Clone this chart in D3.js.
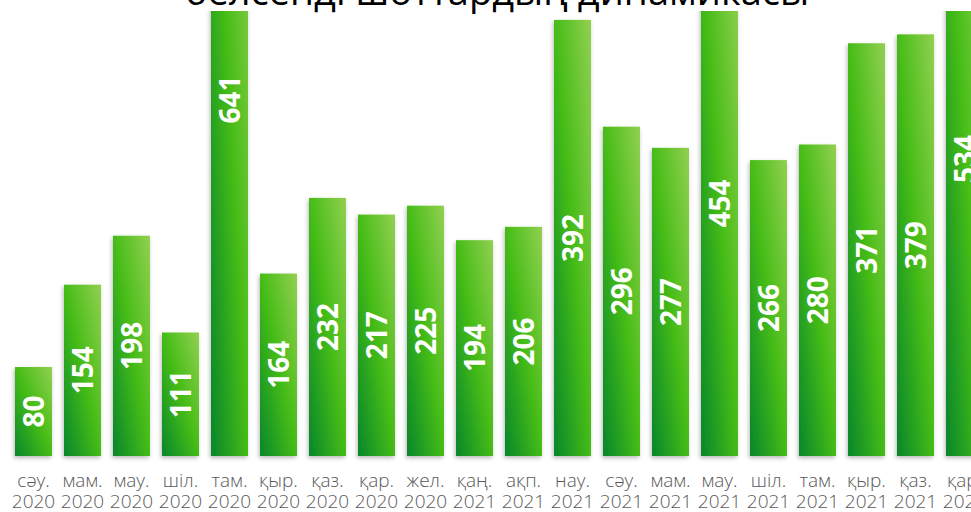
<!DOCTYPE html>
<html>
<head>
<meta charset="utf-8">
<script src="https://cdn.jsdelivr.net/npm/d3@7"></script>
<style>
  html, body { margin: 0; padding: 0; background: #ffffff; }
  svg { display: block; }
</style>
</head>
<body>
<div id="chart"></div>
<script>
const title = "белсенді шоттардың динамикасы";
const months = ["сәу.", "мам.", "мау.", "шіл.", "там.", "қыр.", "қаз.", "қар.", "жел.", "қаң.",
                "ақп.", "нау.", "сәу.", "мам.", "мау.", "шіл.", "там.", "қыр.", "қаз.", "қар."];
const years = ["2020", "2020", "2020", "2020", "2020", "2020", "2020", "2020", "2020", "2021",
               "2021", "2021", "2021", "2021", "2021", "2021", "2021", "2021", "2021", "2021"];
const values = [80, 154, 198, 111, 641, 164, 232, 217, 225, 194,
                206, 392, 296, 277, 454, 266, 280, 371, 379, 534];

const W = 971, H = 512;
const svg = d3.select("#chart").append("svg").attr("width", W).attr("height", H);
const defs = svg.append("defs");

const grad = defs.append("linearGradient").attr("id", "barGrad")
  .attr("x1", 1).attr("y1", 0).attr("x2", 0).attr("y2", 1);
grad.append("stop").attr("offset", "0%").attr("stop-color", "#92d050");
grad.append("stop").attr("offset", "50%").attr("stop-color", "#45bc17");
grad.append("stop").attr("offset", "100%").attr("stop-color", "#08862b");

const shadow = defs.append("filter").attr("id", "shadow")
  .attr("x", "-30%").attr("y", "-10%").attr("width", "160%").attr("height", "120%");
shadow.append("feDropShadow").attr("dx", -1).attr("dy", 2).attr("stdDeviation", 2.2)
  .attr("flood-color", "#000").attr("flood-opacity", 0.28);

defs.append("clipPath").attr("id", "plotClip")
  .append("rect").attr("x", -20).attr("y", 11).attr("width", W + 40).attr("height", 470);

const idx = d3.range(values.length);
const x = d3.scaleBand().domain(idx).range([9, 989]).paddingInner(12 / 49).paddingOuter(6 / 49);
const y = d3.scaleLinear().domain([0, 400]).range([456, 11]);

const plot = svg.append("g").attr("clip-path", "url(#plotClip)");

plot.selectAll("rect.bar").data(idx).join("rect")
  .attr("class", "bar")
  .attr("x", i => x(i))
  .attr("y", i => y(values[i]))
  .attr("width", x.bandwidth())
  .attr("height", i => y(0) - y(values[i]))
  .attr("fill", "url(#barGrad)")
  .attr("filter", "url(#shadow)");

plot.selectAll("text.val").data(idx).join("text")
  .attr("class", "val")
  .attr("transform", i => `translate(${x(i) + x.bandwidth() / 2 + 10},${(y(values[i]) + y(0)) / 2}) rotate(-90)`)
  .attr("text-anchor", "middle")
  .attr("font-family", "'Open Sans', sans-serif")
  .attr("font-weight", 700)
  .attr("font-size", 28)
  .attr("fill", "#ffffff")
  .text(i => values[i]);

const labG = svg.append("g");
labG.selectAll("text.mon").data(idx).join("text")
  .attr("class", "mon")
  .attr("x", i => x(i) + x.bandwidth() / 2)
  .attr("y", 487)
  .attr("text-anchor", "middle")
  .attr("font-family", "'Open Sans', sans-serif")
  .attr("font-weight", 300)
  .attr("font-size", 19)
  .attr("fill", "#595959")
  .text(i => months[i]);
labG.selectAll("text.yr").data(idx).join("text")
  .attr("class", "yr")
  .attr("x", i => x(i) + x.bandwidth() / 2)
  .attr("y", 508)
  .attr("text-anchor", "middle")
  .attr("font-family", "'Open Sans', sans-serif")
  .attr("font-weight", 300)
  .attr("font-size", 19)
  .attr("fill", "#595959")
  .text(i => years[i]);

svg.append("text")
  .attr("x", 497).attr("y", 5)
  .attr("text-anchor", "middle")
  .attr("font-family", "'Open Sans', sans-serif")
  .attr("font-size", 38)
  .attr("fill", "#000000")
  .text(title);
</script>
</body>
</html>
